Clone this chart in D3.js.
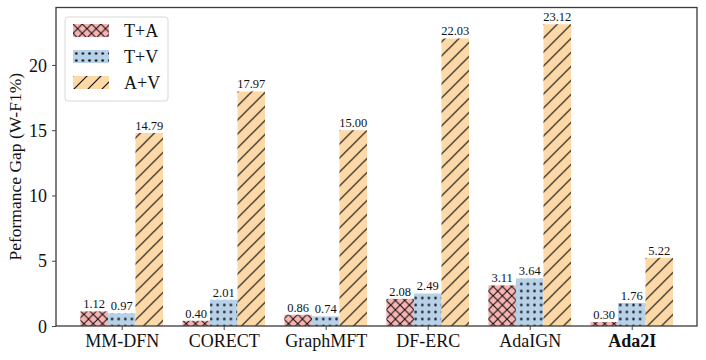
<!DOCTYPE html>
<html>
<head>
<meta charset="utf-8">
<script src="https://cdn.jsdelivr.net/npm/d3@7"></script>
<style>
  body { margin: 0; background: #fff; }
  svg text { font-family: "Liberation Serif", "Times New Roman", Times, serif; }
</style>
</head>
<body>
<svg id="chart" width="706" height="360"></svg>
<script>
const methods = ["MM-DFN", "CORECT", "GraphMFT", "DF-ERC", "AdaIGN", "Ada2I"];
const seriesNames = ["T+A", "T+V", "A+V"];
const gapTA = [1.12, 0.40, 0.86, 2.08, 3.11, 0.30];
const gapTV = [0.97, 2.01, 0.74, 2.49, 3.64, 1.76];
const gapAV = [14.79, 17.97, 15.00, 22.03, 23.12, 5.22];
const yTicks = [0, 5, 10, 15, 20];

const colors = ["#f8b4b2", "#b7d1e8", "#fed9a8"];
const patternIds = ["hatch-x", "hatch-dot", "hatch-slash"];

const svg = d3.select("#chart");
const margin = { top: 7.5, right: 9, bottom: 34, left: 56 };
const width = 706 - margin.left - margin.right;
const height = 360 - margin.top - margin.bottom;

// hatch patterns
const defs = svg.append("defs");

const px = defs.append("pattern").attr("id", "hatch-x")
  .attr("patternUnits", "userSpaceOnUse").attr("width", 9.3).attr("height", 9.3);
px.append("rect").attr("width", 9.3).attr("height", 9.3).attr("fill", colors[0]);
px.append("path").attr("d", "M0,0L9.3,9.3M9.3,0L0,9.3")
  .attr("stroke", "#111").attr("stroke-width", 1.1);

const pd = defs.append("pattern").attr("id", "hatch-dot")
  .attr("patternUnits", "userSpaceOnUse").attr("width", 6.6).attr("height", 7);
pd.append("rect").attr("width", 6.6).attr("height", 7).attr("fill", colors[1]);
pd.append("circle").attr("cx", 3.3).attr("cy", 3.5).attr("r", 1.25).attr("fill", "#111");

const ps = defs.append("pattern").attr("id", "hatch-slash")
  .attr("patternUnits", "userSpaceOnUse").attr("width", 14).attr("height", 14);
ps.append("rect").attr("width", 14).attr("height", 14).attr("fill", colors[2]);
ps.append("path").attr("d", "M-3.5,3.5L3.5,-3.5M0,14L14,0M10.5,17.5L17.5,10.5")
  .attr("stroke", "#111").attr("stroke-width", 1.2);

const g = svg.append("g").attr("transform", `translate(${margin.left},${margin.top})`);

const x = d3.scaleLinear().domain([-0.644, 5.64]).range([0, width]);
const y = d3.scaleLinear().domain([0, 24.4]).range([height, 0]);
const bw = 0.27;

const series = [gapTA, gapTV, gapAV];

series.forEach((vals, s) => {
  const off = (s - 1) * bw;
  g.selectAll(".bar-" + s)
    .data(vals)
    .enter()
    .append("rect")
    .attr("x", (d, i) => x(i + off - bw / 2))
    .attr("y", (d) => y(d))
    .attr("width", x(bw) - x(0))
    .attr("height", (d) => height - y(d))
    .attr("fill", `url(#${patternIds[s]})`);

  g.selectAll(".lbl-" + s)
    .data(vals)
    .enter()
    .append("text")
    .attr("x", (d, i) => x(i + off))
    .attr("y", (d) => y(d) - 3)
    .attr("text-anchor", "middle")
    .style("font-size", "12.5px")
    .attr("fill", "#111")
    .text((d) => d.toFixed(2));
});

// frame
g.append("rect")
  .attr("width", width).attr("height", height)
  .attr("fill", "none").attr("stroke", "#3a3a3a").attr("stroke-width", 1.3);

// y axis
const yAxis = g.append("g").call(d3.axisLeft(y).tickValues(yTicks).tickSize(4).tickFormat(d3.format("d")));
yAxis.select(".domain").remove();
yAxis.selectAll("line").attr("stroke", "#444");
yAxis.selectAll("text").style("font-size", "18px").attr("fill", "#111")
  .attr("dx", "-2").attr("dy", "0.34em");

// x axis
const xAxis = g.append("g").attr("transform", `translate(0,${height})`)
  .call(d3.axisBottom(x).tickValues(d3.range(methods.length)).tickSize(4).tickFormat((i) => methods[i]));
xAxis.select(".domain").remove();
xAxis.selectAll("line").attr("stroke", "#444");
xAxis.selectAll("text").style("font-size", "18px").attr("fill", "#111")
  .attr("dy", "0.78em")
  .style("font-weight", (i) => methods[i] === "Ada2I" ? "bold" : "normal");

// y label
svg.append("text")
  .attr("transform", `translate(21,${margin.top + height / 2}) rotate(-90)`)
  .attr("text-anchor", "middle")
  .style("font-size", "17.5px")
  .attr("fill", "#111")
  .text("Peformance Gap (W-F1%)");

// legend
const leg = svg.append("g").attr("transform", "translate(65,17)");
leg.append("rect")
  .attr("width", 103).attr("height", 84).attr("rx", 3)
  .attr("fill", "#fff").attr("fill-opacity", 0.85)
  .attr("stroke", "#d8d8d8").attr("stroke-width", 1);

seriesNames.forEach((name, s) => {
  const row = leg.append("g").attr("transform", `translate(8,${7 + s * 26})`);
  row.append("rect").attr("width", 36).attr("height", 13)
    .attr("fill", `url(#${patternIds[s]})`);
  row.append("text").attr("x", 51).attr("y", 13)
    .style("font-size", "18px").attr("fill", "#111").text(name);
});
</script>
</body>
</html>
